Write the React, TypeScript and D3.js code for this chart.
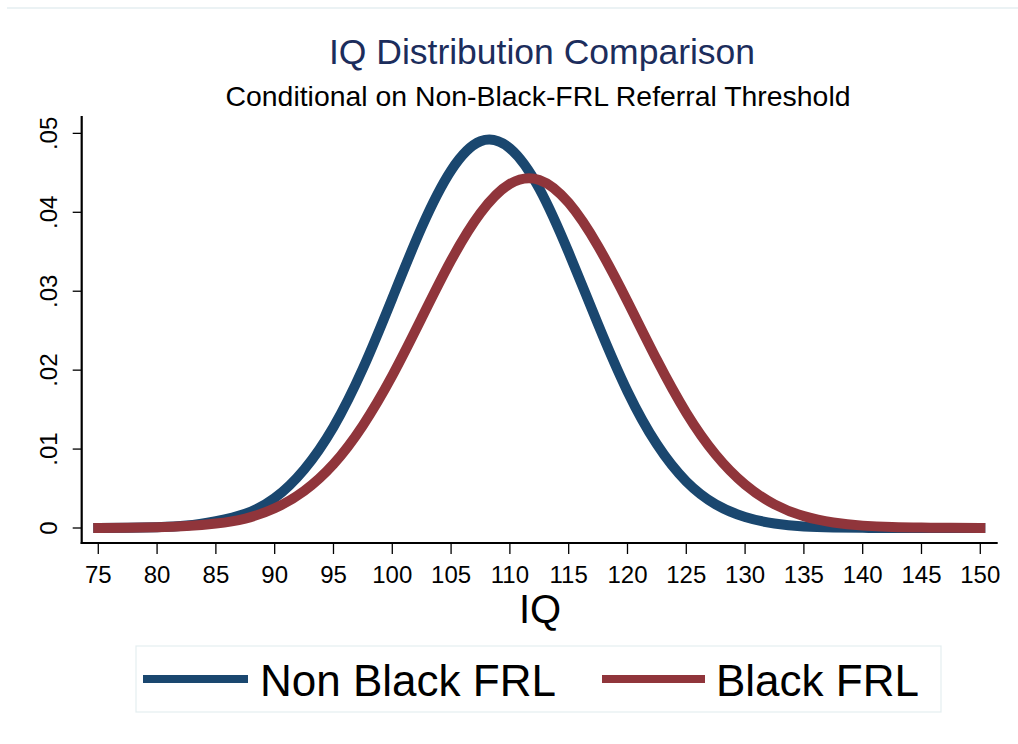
import React from "react";
import * as d3 from "d3";

const iq = [75, 77.5, 80, 82.5, 85, 87.5, 90, 92.5, 95, 97.5, 100, 102.5, 105, 107.5, 110, 112.5, 115, 117.5, 120, 122.5, 125, 127.5, 130, 132.5, 135, 137.5, 140, 142.5, 145, 147.5, 150];
const nonBlackFRL = [0.00001, 0.00004, 0.00011, 0.00031, 0.00087, 0.0018, 0.0038, 0.0074, 0.0128, 0.0202, 0.0291, 0.0381, 0.0453, 0.0490, 0.0481, 0.0430, 0.0349, 0.0258, 0.0173, 0.0106, 0.0059, 0.0030, 0.0014, 0.00057, 0.0002, 0.00007, 0.00002, 0, 0, 0, 0];
const blackFRL = [0.00001, 0.00003, 0.00009, 0.00024, 0.00056, 0.0012, 0.0025, 0.0047, 0.0081, 0.0130, 0.0193, 0.0266, 0.0339, 0.0399, 0.0436, 0.0441, 0.0412, 0.0357, 0.0287, 0.0213, 0.0146, 0.0093, 0.0055, 0.0030, 0.0015, 0.0007, 0.0003, 0.00012, 0.00005, 0.00002, 0.00001];
const xTicks = [75, 80, 85, 90, 95, 100, 105, 110, 115, 120, 125, 130, 135, 140, 145, 150];
const yTicks = [0, 0.01, 0.02, 0.03, 0.04, 0.05];
const yTickLabels = ["0", ".01", ".02", ".03", ".04", ".05"];
const seriesNames = ["Non Black FRL", "Black FRL"];
const title = "IQ Distribution Comparison";
const subtitle = "Conditional on Non-Black-FRL Referral Threshold";
const xTitle = "IQ";

const BLUE = "#1a476f";
const RED = "#90353b";
const FONT = "'Liberation Sans', Arial, Helvetica, sans-serif";

export default function App() {
  const W = 1018, H = 744;
  const x = d3.scaleLinear().domain([73.59, 151.48]).range([81.7, 997.7]);
  const y = d3.scaleLinear().domain([-0.0019, 0.0522]).range([543, 116]);
  const line = d3
    .line<[number, number]>()
    .x((d) => x(d[0]))
    .y((d) => y(d[1]))
    .curve(d3.curveNatural);
  const series = [
    { name: seriesNames[0], vals: nonBlackFRL, color: BLUE },
    { name: seriesNames[1], vals: blackFRL, color: RED },
  ];
  const [x0, x1] = x.range();
  const [yb, yt] = y.range();
  return (
    <svg
      width={W}
      height={H}
      style={{ position: "absolute", left: 0, top: 0, background: "#fff" }}
      fontFamily={FONT}
    >
      <rect x={0} y={0} width={W} height={H} fill="#fff" />
      <line x1={7} x2={W} y1={8} y2={8} stroke="#e4eef0" strokeWidth={1.5} />
      <text x={542} y={64} textAnchor="middle" fontSize={35.5} fill="#1c2d5c">
        {title}
      </text>
      <text x={538} y={106} textAnchor="middle" fontSize={28} fill="#000" textLength={625} lengthAdjust="spacingAndGlyphs">
        {subtitle}
      </text>
      {series.map((s) => (
        <path
          key={s.name}
          d={line(iq.map((v, i) => [v, s.vals[i]] as [number, number])) || ""}
          fill="none"
          stroke={s.color}
          strokeWidth={10}
          strokeLinecap="square"
          strokeLinejoin="round"
        />
      ))}
      {/* axes */}
      <line x1={x0} x2={x0} y1={yt} y2={yb + 1} stroke="#000" strokeWidth={2.2} />
      <line x1={x0 - 1} x2={x1} y1={yb} y2={yb} stroke="#000" strokeWidth={2.2} />
      {yTicks.map((t, i) => (
        <g key={t}>
          <line x1={x0 - 9} x2={x0} y1={y(t)} y2={y(t)} stroke="#000" strokeWidth={1.3} />
          <text
            transform={`translate(${57},${y(t)}) rotate(-90)`}
            textAnchor="middle"
            fontSize={24}
            fill="#000"
          >
            {yTickLabels[i]}
          </text>
        </g>
      ))}
      {xTicks.map((t) => (
        <g key={t}>
          <line x1={x(t)} x2={x(t)} y1={yb} y2={yb + 11} stroke="#000" strokeWidth={1.3} />
          <text x={x(t)} y={583} textAnchor="middle" fontSize={24} fill="#000">
            {t}
          </text>
        </g>
      ))}
      <text x={540} y={623} textAnchor="middle" fontSize={40} fill="#000">
        {xTitle}
      </text>
      {/* legend */}
      <rect x={136} y={646} width={805} height={66} fill="#fff" stroke="#e4eef0" strokeWidth={1.2} />
      <line x1={143} x2={248} y1={679} y2={679} stroke={BLUE} strokeWidth={8} />
      <text x={260} y={696} fontSize={44} fill="#000">
        {seriesNames[0]}
      </text>
      <line x1={602} x2={705} y1={679} y2={679} stroke={RED} strokeWidth={8} />
      <text x={716} y={696} fontSize={44} fill="#000">
        {seriesNames[1]}
      </text>
    </svg>
  );
}
